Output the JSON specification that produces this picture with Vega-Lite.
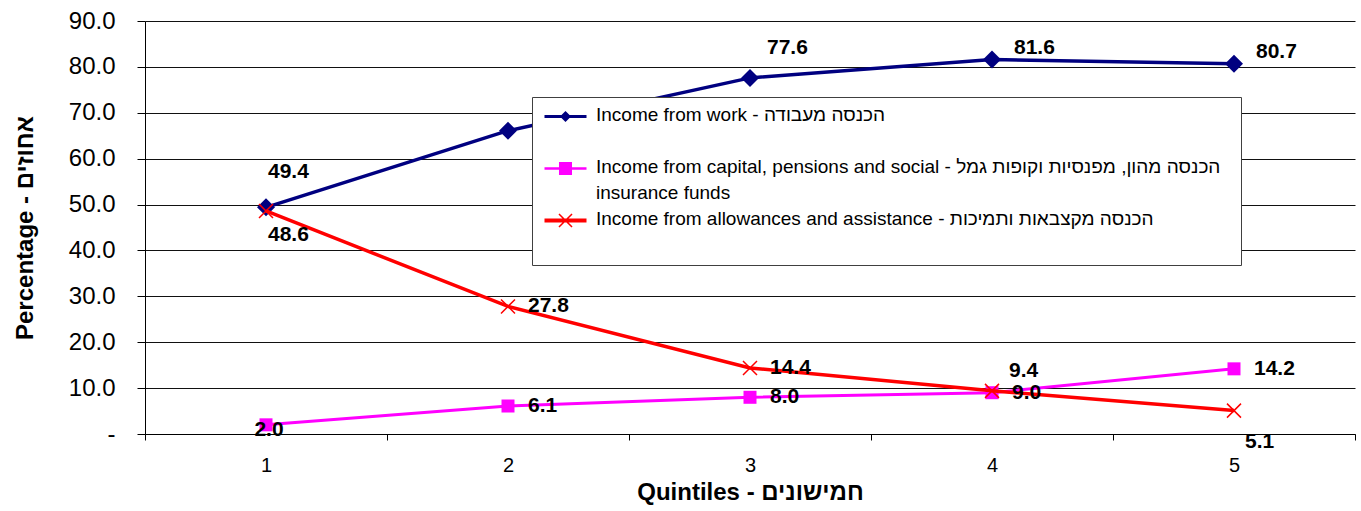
{
  "$schema": "https://vega.github.io/schema/vega-lite/v6.json",
  "width": 1210,
  "height": 413,
  "autosize": "none",
  "padding": {"left": 145, "top": 21, "right": 6, "bottom": 77},
  "background": "white",
  "config": {
    "view": {"stroke": null},
    "font": "Liberation Sans"
  },
  "data": {
    "values": [
      {"quintile": 1, "series": "work", "value": 49.4},
      {"quintile": 2, "series": "work", "value": 66.1},
      {"quintile": 3, "series": "work", "value": 77.6},
      {"quintile": 4, "series": "work", "value": 81.6},
      {"quintile": 5, "series": "work", "value": 80.7},
      {"quintile": 1, "series": "capital", "value": 2.0},
      {"quintile": 2, "series": "capital", "value": 6.1},
      {"quintile": 3, "series": "capital", "value": 8.0},
      {"quintile": 4, "series": "capital", "value": 9.0},
      {"quintile": 5, "series": "capital", "value": 14.2},
      {"quintile": 1, "series": "allowances", "value": 48.6},
      {"quintile": 2, "series": "allowances", "value": 27.8},
      {"quintile": 3, "series": "allowances", "value": 14.4},
      {"quintile": 4, "series": "allowances", "value": 9.4},
      {"quintile": 5, "series": "allowances", "value": 5.1}
    ]
  },
  "encoding": {
    "x": {
      "field": "quintile",
      "type": "ordinal",
      "bandPosition": 0.5,
      "scale": {"type": "band", "paddingInner": 0, "paddingOuter": 0},
      "axis": {
        "title": "Quintiles - חמישונים",
        "titleFontSize": 24,
        "titleFontWeight": "bold",
        "titleColor": "black",
        "titlePadding": 5,
        "labelAngle": 0,
        "labelFontSize": 20,
        "labelColor": "black",
        "labelPadding": 15,
        "tickBand": "extent",
        "tickSize": 6,
        "tickColor": "black",
        "domainColor": "black",
        "grid": false
      }
    },
    "y": {
      "field": "value",
      "type": "quantitative",
      "scale": {"domain": [0, 90], "nice": false},
      "axis": {
        "title": "Percentage - אחוזים",
        "titleFontSize": 24,
        "titleFontWeight": "bold",
        "titleColor": "black",
        "titlePadding": 31,
        "values": [0, 10, 20, 30, 40, 50, 60, 70, 80, 90],
        "labelExpr": "datum.value == 0 ? '-\u2007\u2007' : format(datum.value, '.1f')",
        "labelFontSize": 24,
        "labelColor": "black",
        "labelPadding": 22,
        "tickSize": 8,
        "tickColor": "black",
        "domainColor": "black",
        "grid": true,
        "gridColor": "#111111",
        "gridWidth": 1
      }
    },
    "color": {
      "field": "series",
      "type": "nominal",
      "scale": {
        "domain": ["work", "capital", "allowances"],
        "range": ["#000080", "#FF00FF", "#FF0000"]
      },
      "legend": {
        "orient": "none",
        "legendX": 387,
        "legendY": 76,
        "title": null,
        "fillColor": "white",
        "strokeColor": "#404040",
        "padding": 10,
        "labelFont": "Liberation Sans",
        "labelFontSize": 19,
        "labelColor": "black",
        "labelBaseline": "top",
        "labelLimit": 1000,
        "labelOffset": 35,
        "symbolSize": 196,
        "rowPadding": 6,
        "labelExpr": "datum.value == 'work' ? ['\u00a0Income from work - הכנסה מעבודה', ''] : datum.value == 'capital' ? ['Income from capital, pensions and social  - הכנסה  מהון, מפנסיות וקופות גמל', '\u00a0insurance funds'] : ['Income from allowances and assistance - הכנסה מקצבאות ותמיכות', '']",
        "encode": {
          "labels": {
            "update": {
              "dy": {"value": -11},
              "lineHeight": {"value": 26}
            }
          },
          "symbols": {
            "update": {
              "shape": {"signal": "datum.value == 'work' ? 'M-1,-0.23H5V0.23H-1Z M1.21,0L2,-0.79L2.79,0L2,0.79Z' : datum.value == 'capital' ? 'M-1,-0.18H5V0.18H-1Z M1.07,-0.93H2.93V0.93H1.07Z' : 'M-1,-0.29H5V0.29H-1Z M1.146,-1.006L3.006,0.854L2.854,1.006L0.994,-0.854Z M0.994,0.854L2.854,-1.006L3.006,-0.854L1.146,1.006Z'"},
              "fill": {"signal": "scale('color', datum.value)"},
              "stroke": {"value": "transparent"},
              "strokeWidth": {"value": 0},
              "opacity": {"value": 1},
              "fillOpacity": {"value": 1}
            }
          }
        }
      }
    }
  },
  "layer": [
    {
      "transform": [{"filter": "datum.series == 'work'"}],
      "mark": {"type": "line", "strokeWidth": 3.5},
      "encoding": {}
    },
    {
      "transform": [{"filter": "datum.series == 'work'"}],
      "mark": {"type": "point", "shape": "diamond", "filled": true, "size": 324, "opacity": 1},
      "encoding": {}
    },
    {
      "transform": [{"filter": "datum.series == 'capital'"}],
      "mark": {"type": "line", "strokeWidth": 3},
      "encoding": {}
    },
    {
      "transform": [{"filter": "datum.series == 'capital'"}],
      "mark": {"type": "point", "shape": "square", "filled": true, "size": 169, "opacity": 1},
      "encoding": {}
    },
    {
      "transform": [{"filter": "datum.series == 'allowances'"}],
      "mark": {"type": "line", "strokeWidth": 3.5},
      "encoding": {}
    },
    {
      "transform": [{"filter": "datum.series == 'allowances'"}],
      "mark": {"type": "point", "shape": "M-1,-1L1,1M-1,1L1,-1", "filled": false, "size": 196, "strokeWidth": 1.5, "opacity": 1},
      "encoding": {}
    },
    {
      "transform": [{"filter": "(datum.series == 'capital' && datum.quintile >= 2) || (datum.series == 'allowances' && (datum.quintile == 2 || datum.quintile == 3))"}],
      "mark": {"type": "text", "align": "left", "baseline": "middle", "dx": 20, "dy": 0, "fontSize": 21, "fontWeight": "bold"},
      "encoding": {"text": {"field": "value", "format": ".1f"}, "color": {"value": "black"}}
    },
    {
      "transform": [{"filter": "datum.series == 'work' && datum.quintile >= 4"}],
      "mark": {"type": "text", "align": "left", "baseline": "middle", "dx": 22, "dy": -12, "fontSize": 21, "fontWeight": "bold"},
      "encoding": {"text": {"field": "value", "format": ".1f"}, "color": {"value": "black"}}
    },
    {
      "transform": [{"filter": "datum.series == 'work' && datum.quintile == 3"}],
      "mark": {"type": "text", "align": "left", "baseline": "middle", "dx": 17, "dy": -30, "fontSize": 21, "fontWeight": "bold"},
      "encoding": {"text": {"field": "value", "format": ".1f"}, "color": {"value": "black"}}
    },
    {
      "transform": [{"filter": "datum.series == 'work' && datum.quintile == 1"}],
      "mark": {"type": "text", "align": "left", "baseline": "middle", "dx": 2, "dy": -35, "fontSize": 21, "fontWeight": "bold"},
      "encoding": {"text": {"field": "value", "format": ".1f"}, "color": {"value": "black"}}
    },
    {
      "transform": [{"filter": "datum.series == 'allowances' && datum.quintile == 1"}],
      "mark": {"type": "text", "align": "left", "baseline": "middle", "dx": 2, "dy": 24, "fontSize": 21, "fontWeight": "bold"},
      "encoding": {"text": {"field": "value", "format": ".1f"}, "color": {"value": "black"}}
    },
    {
      "transform": [{"filter": "datum.series == 'capital' && datum.quintile == 1"}],
      "mark": {"type": "text", "align": "center", "baseline": "middle", "dx": 3, "dy": 5, "fontSize": 21, "fontWeight": "bold"},
      "encoding": {"text": {"field": "value", "format": ".1f"}, "color": {"value": "black"}}
    },
    {
      "transform": [{"filter": "datum.series == 'allowances' && datum.quintile == 4"}],
      "mark": {"type": "text", "align": "left", "baseline": "middle", "dx": 17, "dy": -20, "fontSize": 21, "fontWeight": "bold"},
      "encoding": {"text": {"field": "value", "format": ".1f"}, "color": {"value": "black"}}
    },
    {
      "transform": [{"filter": "datum.series == 'allowances' && datum.quintile == 5"}],
      "mark": {"type": "text", "align": "left", "baseline": "middle", "dx": 11, "dy": 31, "fontSize": 21, "fontWeight": "bold"},
      "encoding": {"text": {"field": "value", "format": ".1f"}, "color": {"value": "black"}}
    }
  ]
}
